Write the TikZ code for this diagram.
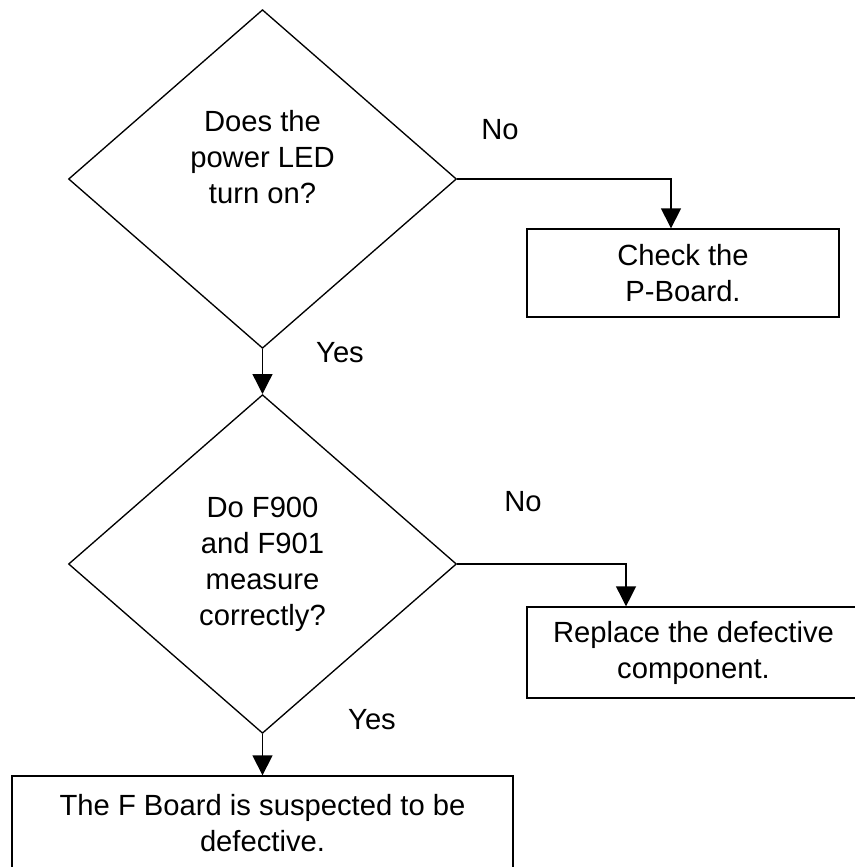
\documentclass[tikz,border=0pt]{standalone}
\usepackage{fontspec}
\setmainfont{Liberation Sans}
\usetikzlibrary{arrows.meta,positioning,shapes.geometric}

\begin{document}
\begin{tikzpicture}[x=0.75pt, y=-0.75pt, line width=1pt,
    every node/.style={font=\fontsize{21.9pt}{27pt}\selectfont, align=center},
    query/.style={draw, diamond, inner sep=0pt, minimum width=291pt, minimum height=254pt},
    action/.style={draw, rectangle, inner sep=0pt},
    flow/.style={-{Triangle[length=15pt, width=15pt]}}]
  \useasboundingbox (0,0) rectangle (855,867);
  % decisions
  \node[query, label={[yshift=16.5pt]center:Does the\\power LED\\turn on?}] (led) at (262.5,179) {};
  \node[query] (fuse) at (262.5,564) {Do F900\\and F901\\measure\\correctly?};
  % actions
  \node[action, minimum width=234pt, minimum height=66pt] (pboard) at (683,273) {Check the\\P-Board.};
  \node[action, minimum width=249.75pt, minimum height=68.25pt] (replace) at (693.5,652.5) {Replace the defective\\component.};
  \node[action, minimum width=375.75pt, minimum height=70.5pt] (fboard) at (262.5,823) {The F Board is suspected to be\\defective.};
  % answers
  \node (no1) at (500,130) {No};
  \node (yes1) at (340,353) {Yes};
  \node (no2) at (523,502) {No};
  \node (yes2) at (372,720) {Yes};
  \draw[flow] (led.east) -| ([xshift=-9pt]pboard.north);
  \draw[flow] (led.south) -- (fuse.north);
  \draw[flow] (fuse.east) -| ([xshift=-50.6pt]replace.north);
  \draw[flow] (fuse.south) -- (fboard.north);
\end{tikzpicture}
\end{document}
